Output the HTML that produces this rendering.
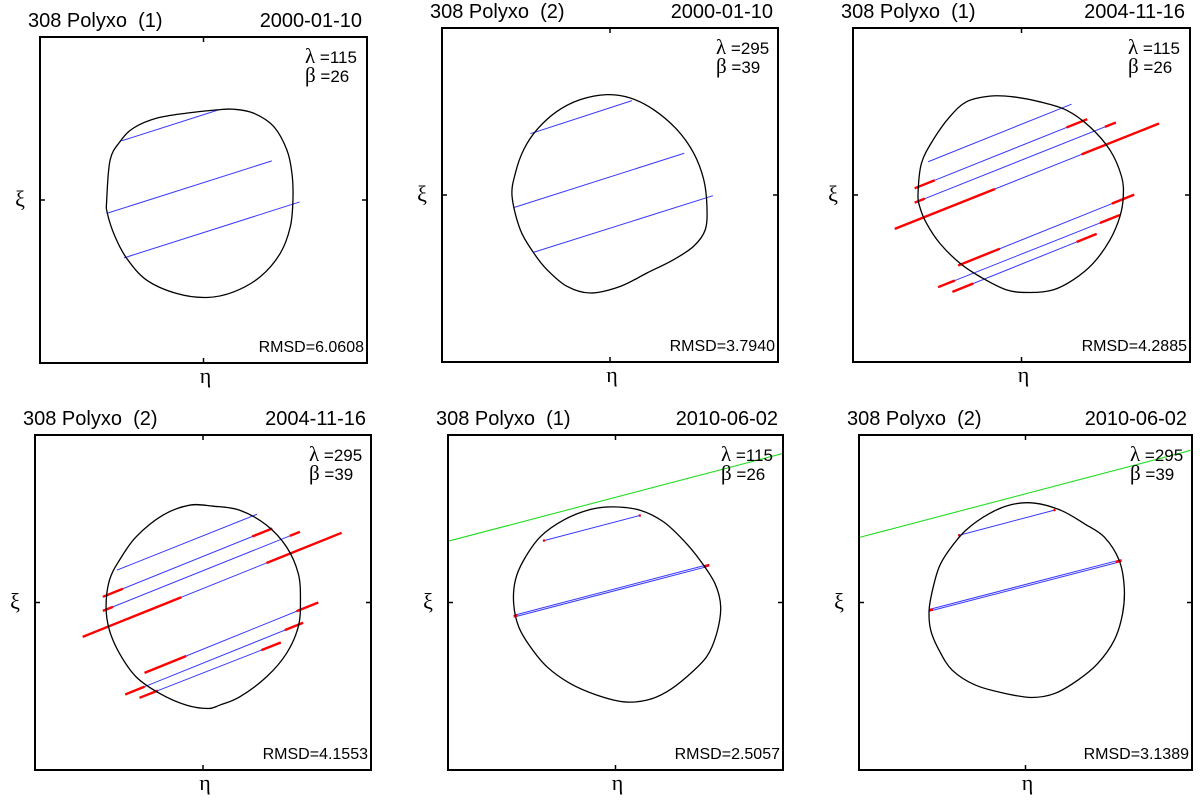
<!DOCTYPE html>
<html><head><meta charset="utf-8"><style>
html,body{margin:0;padding:0;background:#fff;}
svg{display:block;}
text{white-space:pre;}
</style></head><body>
<svg id="fig" width="1200" height="801" viewBox="0 0 1200 801" xmlns="http://www.w3.org/2000/svg" font-family="Liberation Sans, sans-serif"></svg>
<script>
// ---- Data (eta, xi in plot units, -100..100 across each box) ----
const titles = ["308 Polyxo  (1)","308 Polyxo  (2)","308 Polyxo  (1)","308 Polyxo  (2)","308 Polyxo  (1)","308 Polyxo  (2)"];
const dates = ["2000-01-10","2000-01-10","2004-11-16","2004-11-16","2010-06-02","2010-06-02"];
const lambdas = ["115","295","115","295","115","295"];
const betas = ["26","39","26","39","26","39"];
const rmsd = ["6.0608","3.7940","4.2885","4.1553","2.5057","3.1389"];

const outline1 = [[-59.2,0],[-57.1,24.6],[-51,35.9],[-42.9,44.1],[-28.6,50.2],[-10.2,53.3],[8.2,55.3],[18.4,55.7],[30.6,53.3],[42.9,45.1],[51,30.7],[54.1,16.4],[54.7,0],[53.1,-16.4],[46.9,-32.8],[34.7,-47.1],[18.4,-56.4],[2,-59.8],[-16.3,-57.4],[-34.7,-49.2],[-46.9,-35.9],[-54.1,-22.5],[-58.8,-8.2]];
const outline2 = [[-58.3,-0.8],[-56.3,13.2],[-51.4,27.1],[-43.5,39.1],[-31.5,50.1],[-17.7,57.1],[-1.8,60.1],[12.1,58.1],[26,51.1],[39.9,39.1],[49.8,25.1],[55.8,9.2],[57.7,-6.8],[56.7,-20.8],[49.8,-30.7],[37.9,-38.7],[22,-46.7],[6.2,-54.7],[-11.7,-58.7],[-25.6,-54.7],[-37.5,-44.7],[-45.4,-34.7],[-53.4,-20.8]];
const outline3 = [[-61.4,1],[-59.4,18.9],[-52.5,32.9],[-42.6,46.8],[-32.7,55.8],[-18.8,59.2],[-5,58.8],[10.9,55.8],[26.7,50.8],[40.6,40.8],[52.5,26.9],[59.4,11],[60.4,-1],[58.4,-12.9],[52.5,-26.9],[42.6,-40.8],[30.7,-50.8],[18.8,-56.8],[5,-58.4],[-8.9,-56.8],[-24.8,-48.8],[-36.6,-40.8],[-48.5,-28.9],[-56.4,-16.9],[-60.4,-7]];
const outline4 = [[-57.7,-2.6],[-55.7,13.3],[-49.7,25.3],[-39.8,39.2],[-23.9,52.1],[-8,58.1],[6,57.5],[21.9,55.1],[37.8,46.2],[49.7,33.2],[56.7,17.3],[58,1.4],[56.7,-14.5],[49.7,-30.4],[37.8,-44.4],[21.9,-56.3],[9.9,-61.3],[3,-63.3],[-9.9,-61.3],[-25.8,-54.3],[-39.8,-44.4],[-49.7,-30.4],[-55.7,-16.5]];
const outline5 = [[-60.8,-0.6],[-59.8,13.3],[-54.8,25.3],[-44.9,39.2],[-31,49.2],[-15.1,55.5],[-1.2,57.1],[14.7,55.1],[28.6,48.2],[40.5,37.2],[50.4,25.3],[59.4,11.3],[62.8,-2.6],[60.4,-18.5],[54.4,-32.4],[42.5,-44.4],[30.6,-53.3],[18.7,-58.3],[4.8,-59.3],[-11.1,-55.3],[-27,-48.4],[-40.9,-38.4],[-50.8,-26.5],[-57.8,-14.5]];
const outline6 = [[-57.9,-4.7],[-55.9,7.2],[-51.9,21.1],[-46,31.1],[-36,43],[-22.1,52.9],[-8.2,58.5],[5.7,59.3],[21.6,54.9],[35.4,47],[47.4,39],[56.3,25.1],[59.3,9.2],[58.3,-6.7],[53.3,-22.5],[43.4,-36.4],[31.5,-46.3],[17.6,-54.3],[3.7,-56.7],[-12.2,-54.3],[-30.1,-49.3],[-44,-40.4],[-51.9,-28.5],[-56.9,-16.6]];

// chords: [eta1, xi1, eta2, xi2]
const chords1 = [[-50,36.3,9.2,55.3],[-59.2,-8.2,41.8,24],[-48.6,-35.5,58.8,-1.2]];
const chords2 = [[-47.4,36.7,13.1,56.5],[-56.9,-7.4,44.2,25],[-45.4,-34.3,61.3,-0.4]];
const chords3 = [[-55.4,19.9,29.7,54.4],[-63.4,4,39,45.4],[-63.4,-4.6,56,43.4],[-75.2,-20.3,81.6,42.8],[-37.6,-42.2,66.9,0.2],[-49.5,-55.2,58.4,-12],[-41,-58,44.6,-23.3]];
const chords4 = [[-51.3,19.3,32.2,52.7],[-59.6,3.4,41.2,44.2],[-59.6,-5,57.7,42.2],[-71.6,-20.5,82.5,41.6],[-34.8,-42,68.6,0],[-46.3,-54.9,59.6,-12.1],[-37.8,-56.9,46.3,-23.9]];
const chords5 = [[-43.3,36.8,15.1,52.1],[-60.8,-8.2,56,22.3]];
const chords6 = [[-40.4,40,18,55.3],[-57.9,-4.7,57.7,25.1]];
// red (timing uncertainty) portions along each chord
const red3 = [null,[0,0.116,0.88,1],[0,0.05,0.945,1],[0,0.379,0.707,1],[0,0.237,0.873,1],[0,0.092,0.89,1],[0,0.144,0.861,1]];
const red4 = [null,[0,0.118,0.882,1],[0,0.051,0.949,1],[0,0.381,0.71,1],[0,0.24,0.875,1],[0,0.109,0.897,1],[0,0.13,0.863,1]];
const red5 = [[0,0.02,0.98,1],[0,0.02,0.97,1]];
const red6 = [[0,0.02,0.98,1],[0,0.02,0.97,1]];
const green5 = [[-99.9,36.6,100,89]];
const green6 = [[-100,38.8,100,91]];
const doubled5 = [false,true];
const doubled6 = [false,true];

// ---- layout ----
const boxes = [[40,37,367,363],[442,28,778,362],[853,28,1190,362],[35,435,371,770],[448,435,783,770],[859,435,1192,770]];
const outlines=[outline1,outline2,outline3,outline4,outline5,outline6];
const chordSets=[chords1,chords2,chords3,chords4,chords5,chords6];
const redSets=[null,null,red3,red4,red5,red6];
const greenSets=[null,null,null,null,green5,green6];
const dblSets=[null,null,null,null,doubled5,doubled6];

const NS="http://www.w3.org/2000/svg";
const svg=document.getElementById('fig');
function mk(tag,attrs,parent){const e=document.createElementNS(NS,tag);for(const k in attrs)e.setAttribute(k,attrs[k]);(parent||svg).appendChild(e);return e;}

function smoothPath(pts){
  const n=pts.length;let d=`M${pts[0][0]},${pts[0][1]}`;
  for(let i=0;i<n;i++){
    const p0=pts[(i-1+n)%n],p1=pts[i],p2=pts[(i+1)%n],p3=pts[(i+2)%n];
    const c1=[p1[0]+(p2[0]-p0[0])/6,p1[1]+(p2[1]-p0[1])/6];
    const c2=[p2[0]-(p3[0]-p1[0])/6,p2[1]-(p3[1]-p1[1])/6];
    d+=` C${c1[0].toFixed(2)},${c1[1].toFixed(2)} ${c2[0].toFixed(2)},${c2[1].toFixed(2)} ${p2[0].toFixed(2)},${p2[1].toFixed(2)}`;
  }
  return d+'Z';
}

boxes.forEach((b,pi)=>{
  const [L,T,R,B]=b;
  const cx=(L+R)/2, cy=(T+B)/2, hw=(R-L)/2, hh=(B-T)/2;
  const X=u=>cx+u/100*hw;
  const Y=v=>cy-v/100*hh;
  const g=mk('g',{});
  
  
  const clipId='clip'+pi;
  const cp=mk('clipPath',{id:clipId},g);
  mk('rect',{x:L,y:T,width:R-L,height:B-T},cp);
  const plot=mk('g',{'clip-path':`url(#${clipId})`},g);

  if(greenSets[pi]) greenSets[pi].forEach(c=>{
    const l=mk('line',{x1:X(c[0]),y1:Y(c[1]),x2:X(c[2]),y2:Y(c[3]),stroke:'#22dd22','stroke-width':1.1},plot);
    
    
  });
  chordSets[pi].forEach((c,ci)=>{
    const x1=X(c[0]),y1=Y(c[1]),x2=X(c[2]),y2=Y(c[3]);
    const offs=(dblSets[pi]&&dblSets[pi][ci])?[-0.9,0.9]:[0];
    offs.forEach(o=>{
      const l=mk('line',{x1:x1,y1:y1+o,x2:x2,y2:y2+o,stroke:'#3838ff','stroke-width':1},plot);
      
      
    });
    const r=redSets[pi]&&redSets[pi][ci];
    if(r){
      for(let k=0;k<r.length;k+=2){
        const a=r[k],bb=r[k+1];
        const s=mk('line',{x1:x1+(x2-x1)*a,y1:y1+(y2-y1)*a,x2:x1+(x2-x1)*bb,y2:y1+(y2-y1)*bb,stroke:'#ff0000','stroke-width':2.4},plot);
        
        
      }
    }
  });
  const pts=outlines[pi].map(p=>[X(p[0]),Y(p[1])]);
  const o=mk('path',{d:smoothPath(pts),fill:'none',stroke:'#000','stroke-width':1.3},plot);
  
  

  const fr=mk('rect',{x:L,y:T,width:R-L,height:B-T,fill:'none',stroke:'#000','stroke-width':2},g);
  
  
  [[cx,T,cx,T+5],[cx,B,cx,B-5],[L,cy,L+5,cy],[R,cy,R-5,cy]].forEach(t=>{
    const tk=mk('line',{x1:t[0],y1:t[1],x2:t[2],y2:t[3],stroke:'#000','stroke-width':1.5},g);
    
    
  });
  const tt=mk('text',{x:L-12,y:T-10,'font-size':20,fill:'#000'},g);tt.textContent=titles[pi];
  
  
  const dt=mk('text',{x:R-5,y:T-10,'font-size':20,fill:'#000','text-anchor':'end'},g);dt.textContent=dates[pi];
  
  
  const lt=mk('text',{x:R-62,y:T+26,'font-size':17,fill:'#000'},g);
  lt.innerHTML=`<tspan font-family="Liberation Serif, serif" font-size="21">λ</tspan> =${lambdas[pi]}`;
  
  
  const bt=mk('text',{x:R-62,y:T+45,'font-size':17,fill:'#000'},g);
  bt.innerHTML=`<tspan font-family="Liberation Serif, serif" font-size="21">β</tspan> =${betas[pi]}`;
  
  
  const rt=mk('text',{x:R-3,y:B-11,'font-size':16,fill:'#000','text-anchor':'end'},g);rt.textContent='RMSD='+rmsd[pi];
  
  
  const xl=mk('text',{x:cx+2,y:B+20,'font-size':22,fill:'#000','text-anchor':'middle','font-family':'Liberation Serif, serif'},g);xl.textContent='η';
  
  
  const yl=mk('text',{x:L-20,y:cy+6,'font-size':22,fill:'#000','text-anchor':'middle','font-family':'Liberation Serif, serif'},g);yl.textContent='ξ';
  
  
});
</script>
</body></html>
